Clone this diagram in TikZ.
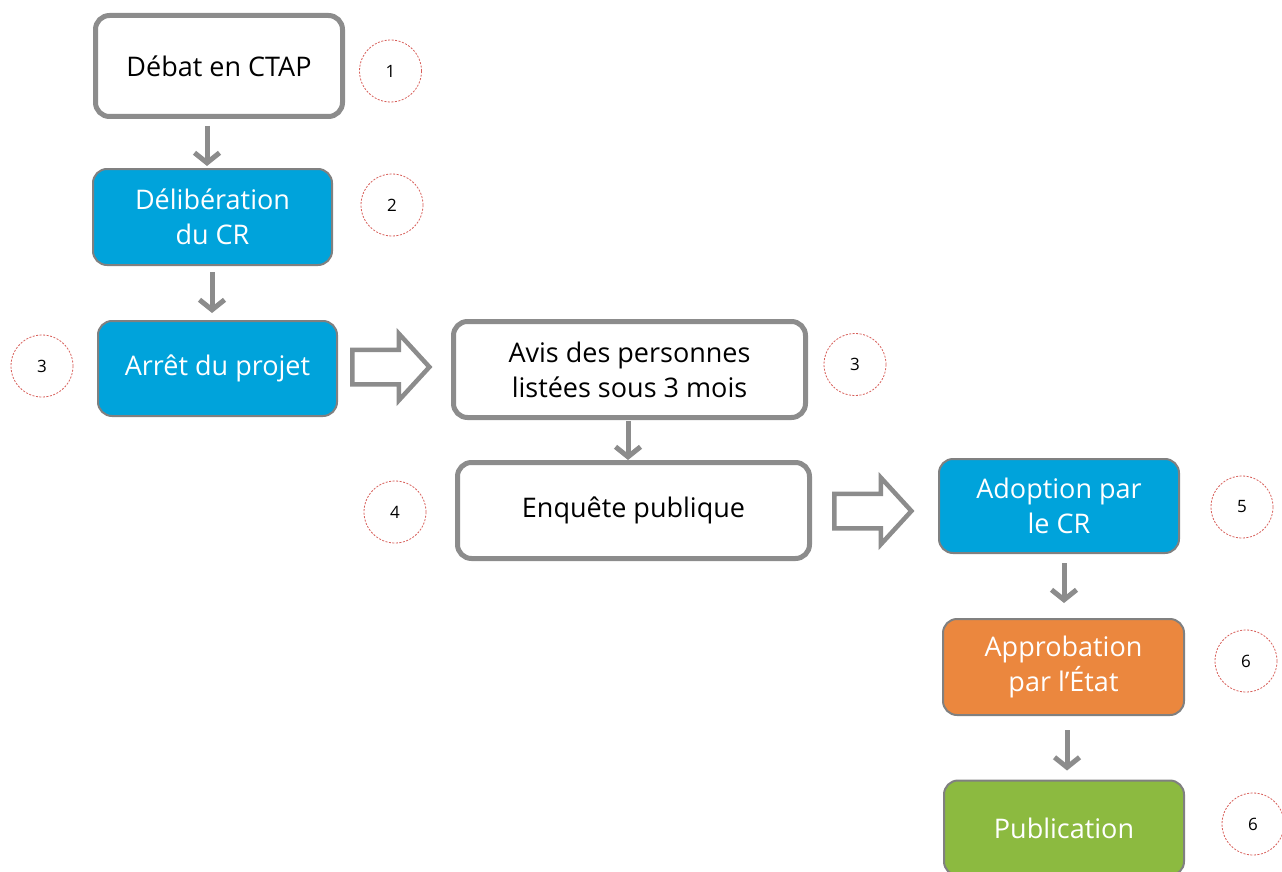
\documentclass[tikz,border=0pt]{standalone}
\usepackage{fontspec}
\setmainfont{Open Sans}
\usetikzlibrary{arrows.meta,shapes.arrows}
\definecolor{BoxGray}{RGB}{140,140,140}
\definecolor{EdgeGray}{RGB}{128,128,128}
\definecolor{StepBlue}{RGB}{0,163,219}
\definecolor{StepOrange}{RGB}{235,135,62}
\definecolor{StepGreen}{RGB}{140,186,64}
\definecolor{DotRed}{RGB}{215,95,90}

\begin{document}
\begin{tikzpicture}[
        x=1pt, y=-1pt,
        font=\fontsize{27}{35}\selectfont,
        plainbox/.style={draw=BoxGray, line width=5pt, rounded corners=14pt,
                         fill=white, align=center, inner sep=0pt},
        colbox/.style={draw=EdgeGray, line width=2pt, rounded corners=14pt,
                       text=white, align=center, inner sep=0pt},
        numcirc/.style={circle, draw=DotRed, dash pattern=on 2pt off 1.5pt, line width=0.8pt,
                        minimum size=62pt, inner sep=0pt,
                        font=\fontsize{17}{17}\selectfont},
        flow/.style={draw=BoxGray, line width=5pt,
                     -{Straight Barb[length=10pt,width=25pt]}},
        blockarr/.style={single arrow, draw=BoxGray, line width=4.5pt, fill=white,
                         inner xsep=0pt, inner ysep=15pt, minimum height=77pt,
                         single arrow head extend=16pt, single arrow tip angle=95}
      ]
        \useasboundingbox (0,0) rectangle (1282,872);
        % left column
        \node[plainbox, minimum width=247pt, minimum height=101pt] (s1) at (219,66)
              {D\'ebat en CTAP};
        \node[colbox, fill=StepBlue, minimum width=239pt, minimum height=96pt] (s2) at (212.5,217)
              {D\'elib\'eration\\du CR};
        \node[colbox, fill=StepBlue, minimum width=239pt, minimum height=95pt] (s3) at (217.5,368.5)
              {Arr\^et du projet};
        % middle column
        \node[plainbox, minimum width=352pt, minimum height=96pt] (s4) at (629.5,369.5)
              {Avis des personnes\\list\'ees sous 3 mois};
        \node[plainbox, minimum width=352pt, minimum height=96pt] (s5) at (633.5,510.5)
              {Enqu\^ete publique};
        % right column
        \node[colbox, fill=StepBlue, minimum width=240pt, minimum height=94pt] (s6) at (1059,506)
              {Adoption par\\le CR};
        \node[colbox, fill=StepOrange, minimum width=241pt, minimum height=96pt] (s7) at (1063.5,667)
              {Approbation\\par l’\'Etat};
        \node[colbox, fill=StepGreen, minimum width=240pt, minimum height=95pt] (s8) at (1064,828)
              {Publication};
        % step numbers
        \node[numcirc] (n1)  at (390.5,71)  {1};
        \node[numcirc] (n2)  at (392,205)   {2};
        \node[numcirc] (n3a) at (42,366)    {3};
        \node[numcirc] (n3b) at (855,364.5) {3};
        \node[numcirc] (n4)  at (395,512)   {4};
        \node[numcirc] (n5)  at (1242,507)  {5};
        \node[numcirc] (n6a) at (1246,661)  {6};
        \node[numcirc] (n6b) at (1253,824)  {6};
        % vertical links
        \draw[flow, shorten <=7pt, shorten >=2pt] ([xshift=-12pt]s1.south) -- ([xshift=-5.5pt]s2.north);
        \draw[flow, shorten <=6pt, shorten >=7pt] ([xshift=-0.5pt]s2.south) -- ([xshift=-5.5pt]s3.north);
        \draw[flow, shorten <=1pt, shorten >=0pt] ([xshift=-1.5pt]s4.south) -- ([xshift=-5.5pt]s5.north);
        \draw[flow, shorten <=9pt, shorten >=15pt] ([xshift=5pt]s6.south) -- ([xshift=0.5pt]s7.north);
        \draw[flow, shorten <=14pt, shorten >=9pt] ([xshift=3.5pt]s7.south) -- ([xshift=3pt]s8.north);
        % hollow block arrows
        \node[blockarr] (b1) at (383,367) {};
        \node[blockarr] (b2) at (865,511) {};
\end{tikzpicture}
\end{document}
